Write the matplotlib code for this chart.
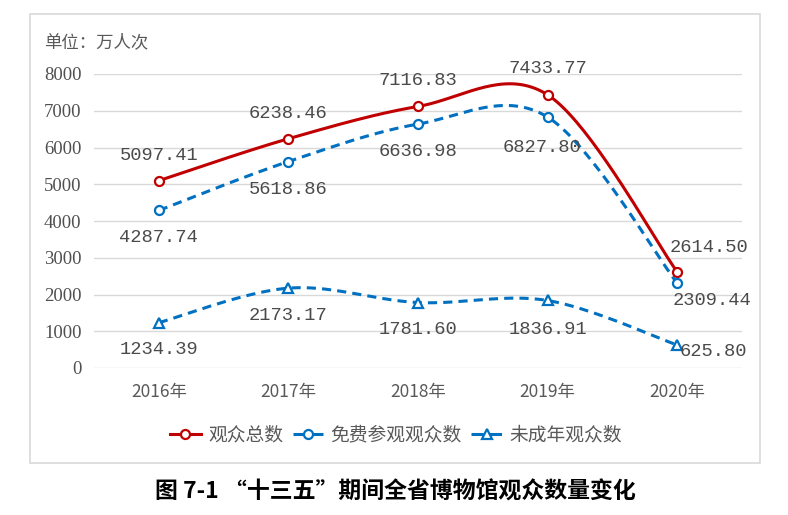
import numpy as np
import matplotlib.pyplot as plt
from matplotlib.patches import Rectangle

years = ['2016年', '2017年', '2018年', '2019年', '2020年']
total = [5097.41, 6238.46, 7116.83, 7433.77, 2614.50]
free = [4287.74, 5618.86, 6636.98, 6827.80, 2309.44]
minor = [1234.39, 2173.17, 1781.60, 1836.91, 625.80]
yticks = [0, 1000, 2000, 3000, 4000, 5000, 6000, 7000, 8000]

# label offsets in pixels (dx, dy) from each point
off_total = [(0, 25), (0, 25), (0, 26), (0, 26), (32, 24)]
off_free = [(0, -27), (0, -28), (0, -27), (-6, -30), (35, -17)]
off_minor = [(0, -27), (0, -27), (0, -27), (0, -29), (36, -6)]

RED = '#C00000'
BLUE = '#0070C0'


def smooth(y, n=40):
    # excel-like bezier smoothing through the points
    y = np.asarray(y, float)
    x = np.arange(len(y), dtype=float)
    px = np.concatenate([[x[0]], x, [x[-1]]])
    py = np.concatenate([[y[0]], y, [y[-1]]])
    xs, ys = [], []
    t = np.linspace(0, 1, n)
    for i in range(len(y) - 1):
        p0 = np.array([x[i], y[i]])
        p3 = np.array([x[i + 1], y[i + 1]])
        p1 = p0 + (np.array([px[i + 2], py[i + 2]]) - np.array([px[i], py[i]])) / 6
        p2 = p3 - (np.array([px[i + 3], py[i + 3]]) - np.array([px[i + 1], py[i + 1]])) / 6
        b = ((1 - t) ** 3)[:, None] * p0 + (3 * (1 - t) ** 2 * t)[:, None] * p1 \
            + (3 * (1 - t) * t ** 2)[:, None] * p2 + (t ** 3)[:, None] * p3
        xs.append(b[:, 0])
        ys.append(b[:, 1])
    return np.concatenate(xs), np.concatenate(ys)


fig = plt.figure(figsize=(7.88, 5.15), dpi=100)
W, H = 788, 515

# chart frame
fig.patches.append(Rectangle((30 / W, 1 - 463 / H), 730 / W, 449 / H,
                             transform=fig.transFigure, fill=False,
                             edgecolor='#d9d9d9', linewidth=1.2))

ax = fig.add_axes([94 / W, 1 - 368 / H, 648 / W, 294 / H])
ax.set_xlim(-0.5, len(years) - 0.5)
ax.set_ylim(0, 8000)
for s in ax.spines.values():
    s.set_visible(False)
ax.set_yticks(yticks)
ax.yaxis.grid(True, color='#d9d9d9', linewidth=1)
ax.set_axisbelow(True)
ax.tick_params(length=0)
ax.set_yticklabels([str(v) for v in yticks], family='Liberation Serif',
                   fontsize=13.5, color='#505050')
ax.set_xticks(range(len(years)))
ax.set_xticklabels(years, family=['Noto Sans CJK SC'], fontsize=12.5, color='#595959')
ax.tick_params(axis='y', pad=9)
ax.tick_params(axis='x', pad=11)

series = [
    (total, RED, '-', 'o', '观众总数', off_total),
    (free, BLUE, (0, (3, 2)), 'o', '免费参观观众数', off_free),
    (minor, BLUE, (0, (3, 2)), '^', '未成年观众数', off_minor),
]
x = np.arange(len(years))
for vals, col, ls, mk, name, offs in series:
    sx, sy = smooth(vals)
    ax.plot(sx, sy, color=col, linestyle=ls, linewidth=2.2, zorder=3)
    ax.plot(x, vals, linestyle='none', marker=mk, markersize=6.5,
            markerfacecolor='white', markeredgecolor=col, markeredgewidth=1.6, zorder=4)
    # legend proxy (dash pattern sized to the short handle)
    ax.plot([], [], color=col, linestyle='-' if ls == '-' else (0, (4, 2)),
            linewidth=2.2, marker=mk, markersize=6.5,
            markerfacecolor='white', markeredgecolor=col, markeredgewidth=1.6, label=name)
    for xi, v, (dx, dy) in zip(x, vals, offs):
        ax.annotate(f'{v:.2f}', (xi, v), xytext=(dx, dy), textcoords='offset pixels',
                    ha='center', va='center', family='Liberation Mono',
                    fontsize=13.5, color='#4a4a4a', zorder=5)

leg = fig.legend(loc='center', bbox_to_anchor=(396 / W, 1 - 435 / H), ncol=3,
                 frameon=False, handlelength=1.63, handletextpad=0.4, columnspacing=0.5,
                 prop={'family': ['Noto Sans CJK SC'], 'size': 13.5})
for t in leg.get_texts():
    t.set_color('#595959')

fig.text(44 / W, 1 - 42 / H, '单位：万人次', family=['Noto Sans CJK SC'],
         fontsize=12.5, color='#595959', ha='left', va='center')

fig.text(395 / W, 1 - 492 / H, '图 7-1 “十三五”期间全省博物馆观众数量变化',
         family=['Noto Sans CJK SC'], fontsize=16.5, fontweight='bold',
         color='black', ha='center', va='center')

fig.savefig('out.png', dpi=100)
